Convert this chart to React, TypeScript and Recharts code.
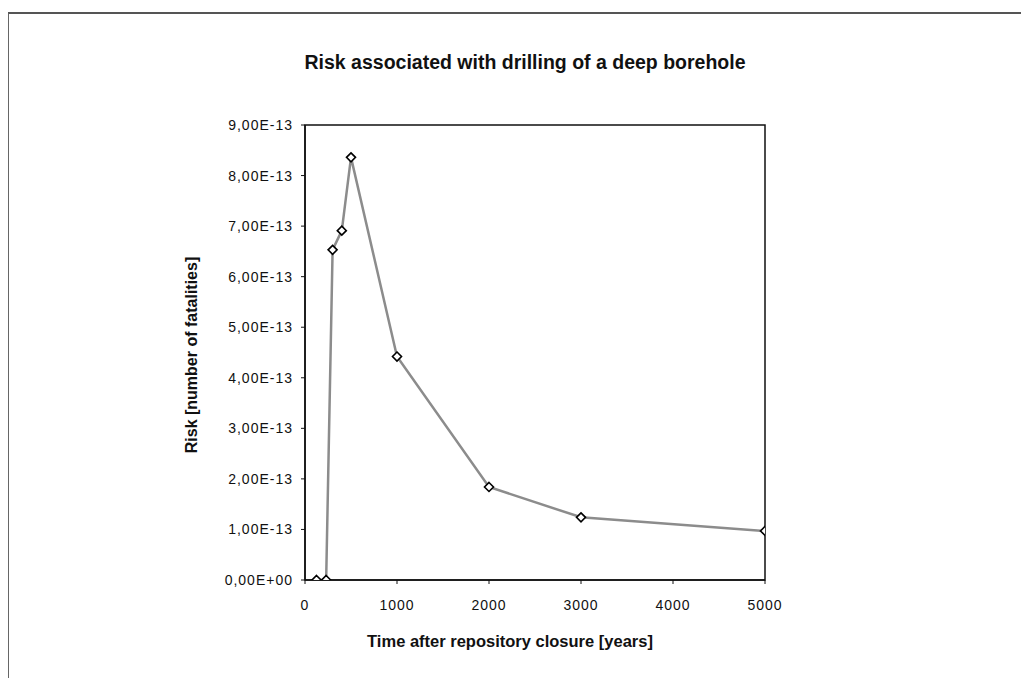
import React from 'react';
import { LineChart, Line, XAxis, YAxis, ReferenceArea } from 'recharts';

const years = [125, 230, 300, 400, 500, 1000, 2000, 3000, 5000];
const risk = [0, 0, 6.53e-13, 6.91e-13, 8.36e-13, 4.42e-13, 1.84e-13, 1.24e-13, 0.97e-13];
const xTicks = [0, 1000, 2000, 3000, 4000, 5000];
const yTicks = [0, 1e-13, 2e-13, 3e-13, 4e-13, 5e-13, 6e-13, 7e-13, 8e-13, 9e-13];

const title = 'Risk associated with drilling of a deep borehole';
const xLabel = 'Time after repository closure [years]';
const yLabel = 'Risk [number of fatalities]';

const data = years.map((t, i) => ({ t, r: risk[i] }));

const fmt = (v: number) => {
  if (!v) return '0,00E+00';
  const e = Math.floor(Math.log10(Math.abs(v)) + 1e-9);
  const m = v / Math.pow(10, e);
  const ae = Math.abs(e);
  return m.toFixed(2).replace('.', ',') + 'E' + (e < 0 ? '-' : '+') + (ae < 10 ? '0' + ae : String(ae));
};

const Diamond = (props: any) => {
  const { cx, cy } = props;
  if (cx == null || cy == null) return null;
  const s = 4.5;
  return (
    <path
      d={`M${cx},${cy - s}L${cx + s},${cy}L${cx},${cy + s}L${cx - s},${cy}Z`}
      fill="#fff"
      stroke="#000"
      strokeWidth={1.6}
    />
  );
};

const font = '"Liberation Sans", Arial, sans-serif';
const tickStyle = { fontFamily: font, fontSize: 14, fill: '#111', letterSpacing: 1 };

export default function App() {
  return (
    <div style={{ position: 'relative', width: 1021, height: 670, background: '#fff', fontFamily: font }}>
      <LineChart width={1021} height={670} data={data} margin={{ top: 117, right: 264, bottom: 68, left: 197 }}>
        <ReferenceArea x1={0} x2={5000} y1={0} y2={9e-13} fill="none" stroke="#111" strokeWidth={1.5} isFront={false} />
        <XAxis
          dataKey="t"
          type="number"
          domain={[0, 5000]}
          ticks={xTicks}
          interval={0}
          height={30}
          tickSize={4}
          tickMargin={16}
          axisLine={{ stroke: '#111', strokeWidth: 1.5 }}
          tickLine={{ stroke: '#111' }}
          tick={tickStyle}
          allowDataOverflow
        />
        <YAxis
          type="number"
          domain={[0, 9e-13]}
          ticks={yTicks}
          interval={0}
          width={100}
          tickSize={4}
          tickMargin={8}
          tickFormatter={fmt}
          axisLine={{ stroke: '#111', strokeWidth: 1.5 }}
          tickLine={{ stroke: '#111' }}
          tick={tickStyle}
          allowDataOverflow
        />
        <Line
          dataKey="r"
          type="linear"
          stroke="#8c8c8c"
          strokeWidth={2.5}
          dot={<Diamond />}
          activeDot={false}
          isAnimationActive={false}
        />
      </LineChart>
      <div style={{ position: 'absolute', left: -1, top: 4, width: 1040, height: 700, borderTop: '2px solid #555', borderLeft: '2px solid #666', zIndex: 10, pointerEvents: 'none' }} />
      <div style={{ position: 'absolute', left: 517, top: 54, transform: 'translate(-50%, -50%)', whiteSpace: 'nowrap', fontSize: 19.5, fontWeight: 'bold', color: '#111' }}>{title}</div>
      <div style={{ position: 'absolute', left: 502, top: 633, transform: 'translate(-50%, -50%)', whiteSpace: 'nowrap', fontSize: 16.5, fontWeight: 'bold', color: '#111' }}>{xLabel}</div>
      <div style={{ position: 'absolute', left: 184, top: 347, transform: 'translate(-50%, -50%) rotate(-90deg)', whiteSpace: 'nowrap', fontSize: 16, fontWeight: 'bold', color: '#111' }}>{yLabel}</div>
    </div>
  );
}
